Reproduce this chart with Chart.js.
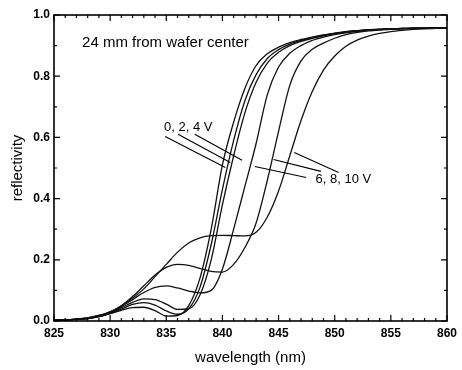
<!DOCTYPE html>
<html lang="en">
<head>
  <meta charset="UTF-8" />
  <title>Reflectivity vs wavelength</title>
  <script src="https://cdn.jsdelivr.net/npm/chart.js"></script>
  <style>
    html, body { margin: 0; padding: 0; background: #fff; }
    #wrap { width: 462px; height: 370px; }
  </style>
</head>
<body>
<div id="wrap"><canvas id="reflChart" width="462" height="370"></canvas></div>

<script>
  // wavelength grid (nm)
  const wavelengths = [825, 826, 827, 828, 829, 830, 831, 832, 833, 834, 835, 836,
    837, 838, 839, 840, 841, 842, 843, 844, 845, 846, 847, 848,
    849, 850, 851, 852, 853, 854, 855, 856, 857, 858, 859, 860];

  // reflectivity, one list per bias voltage
  const refl0V = [.004, .004, .005, .008, .014, .024, .035, .044, .045, .034, .016, .018,
    .05, .14, .3, .51, .65, .76, .835, .873, .895, .91, .92, .928,
    .935, .941, .946, .949, .952, .954, .955, .956, .957, .957, .958, .958];
  const refl2V = [.004, .004, .005, .008, .014, .025, .039, .054, .06, .052, .033, .022,
    .04, .11, .25, .43, .59, .72, .805, .858, .887, .905, .917, .926,
    .934, .94, .945, .949, .951, .953, .955, .956, .957, .957, .958, .958];
  const refl4V = [.004, .004, .005, .008, .015, .026, .043, .061, .072, .07, .055, .038,
    .04, .085, .2, .38, .54, .68, .78, .843, .878, .9, .914, .924,
    .932, .939, .944, .948, .951, .953, .955, .956, .957, .957, .958, .958];
  const refl6V = [.004, .004, .005, .009, .016, .028, .047, .07, .093, .11, .115, .108,
    .098, .092, .1, .17, .3, .44, .58, .74, .83, .875, .9, .917,
    .928, .936, .942, .946, .95, .952, .954, .955, .956, .957, .957, .958];
  const refl8V = [.004, .004, .006, .01, .018, .03, .05, .08, .115, .15, .175, .185,
    .182, .172, .162, .16, .185, .24, .32, .46, .62, .77, .85, .888,
    .908, .924, .936, .943, .948, .951, .953, .955, .956, .957, .957, .958];
  const refl10V = [.004, .004, .006, .01, .018, .03, .05, .075, .105, .145, .185, .225,
    .255, .272, .279, .28, .279, .278, .29, .34, .425, .54, .655, .75,
    .82, .866, .898, .918, .931, .94, .946, .95, .953, .955, .956, .957];

  const seriesList = [refl0V, refl2V, refl4V, refl6V, refl8V, refl10V];
  const seriesNames = ['0 V', '2 V', '4 V', '6 V', '8 V', '10 V'];

  // labels and leader lines, in data units (wavelength, reflectivity)
  const notes = [
    { text: '24 mm from wafer center', x: 827.5, y: 0.91, size: 15 },
    { text: '0, 2, 4 V', x: 834.8, y: 0.633, size: 13 },
    { text: '6, 8, 10 V', x: 848.3, y: 0.462, size: 13 }
  ];
  const leaders = [
    [834.9, 0.603, 840.26, 0.502],
    [836.05, 0.610, 840.7, 0.518],
    [837.54, 0.610, 841.75, 0.525],
    [842.89, 0.505, 847.46, 0.469],
    [844.56, 0.528, 848.77, 0.489],
    [846.4, 0.551, 850.35, 0.485]
  ];

  const FONT = "'Liberation Sans', Arial, sans-serif";

  const framePlugin = {
    id: 'frame',
    afterDraw(chart) {
      const { ctx, chartArea: a, scales: { x, y } } = chart;
      ctx.save();
      ctx.strokeStyle = '#000';
      ctx.lineWidth = 1.6;
      ctx.strokeRect(a.left, a.top, a.right - a.left, a.bottom - a.top);

      ctx.lineWidth = 1.2;
      ctx.beginPath();
      for (let v = 825; v <= 860; v++) {
        const px = x.getPixelForValue(v);
        const len = v % 5 === 0 ? 6 : 3;
        ctx.moveTo(px, a.bottom); ctx.lineTo(px, a.bottom - len);
        ctx.moveTo(px, a.top); ctx.lineTo(px, a.top + len);
      }
      for (let i = 0; i <= 10; i++) {
        const py = y.getPixelForValue(i / 10);
        const len = i % 2 === 0 ? 6 : 3;
        ctx.moveTo(a.left, py); ctx.lineTo(a.left + len, py);
        ctx.moveTo(a.right, py); ctx.lineTo(a.right - len, py);
      }
      ctx.stroke();

      // leader lines
      ctx.lineWidth = 1.1;
      ctx.beginPath();
      leaders.forEach(l => {
        ctx.moveTo(x.getPixelForValue(l[0]), y.getPixelForValue(l[1]));
        ctx.lineTo(x.getPixelForValue(l[2]), y.getPixelForValue(l[3]));
      });
      ctx.stroke();

      ctx.fillStyle = '#000';
      ctx.textBaseline = 'middle';
      ctx.textAlign = 'left';
      notes.forEach(n => {
        ctx.font = n.size + 'px ' + FONT;
        ctx.fillText(n.text, x.getPixelForValue(n.x), y.getPixelForValue(n.y));
      });
      ctx.restore();
    }
  };

  new Chart(document.getElementById('reflChart'), {
    type: 'line',
    data: {
      datasets: seriesList.map((s, i) => ({
        label: seriesNames[i],
        data: wavelengths.map((w, j) => ({ x: w, y: s[j] })),
        borderColor: '#111',
        borderWidth: 1.3,
        pointRadius: 0,
        fill: false,
        cubicInterpolationMode: 'monotone'
      }))
    },
    options: {
      responsive: false,
      animation: false,
      devicePixelRatio: 1,
      layout: { padding: { top: 15, right: 9, left: 0, bottom: 0 } },
      plugins: { legend: { display: false }, tooltip: { enabled: false } },
      scales: {
        x: {
          type: 'linear',
          min: 825, max: 860,
          grid: { display: false, drawTicks: false },
          border: { display: false },
          ticks: { stepSize: 5, padding: 5, color: '#000', maxRotation: 0,
                   font: { family: FONT, size: 12, weight: 'bold' } },
          title: { display: true, text: 'wavelength (nm)', color: '#000',
                   font: { family: FONT, size: 15 }, padding: { top: 0, bottom: 3 } },
          afterFit(scale) { scale.height = 49; }
        },
        y: {
          min: 0, max: 1.0,
          grid: { display: false, drawTicks: false },
          border: { display: false },
          ticks: { stepSize: 0.2, padding: 4, color: '#000',
                   font: { family: FONT, size: 12, weight: 'bold' },
                   callback: v => v.toFixed(1) },
          title: { display: true, text: 'reflectivity', color: '#000',
                   font: { family: FONT, size: 15 }, padding: { top: 9, bottom: 0 } },
          afterFit(scale) { scale.width = 54; }
        }
      }
    },
    plugins: [framePlugin]
  });
</script>
</body>
</html>
